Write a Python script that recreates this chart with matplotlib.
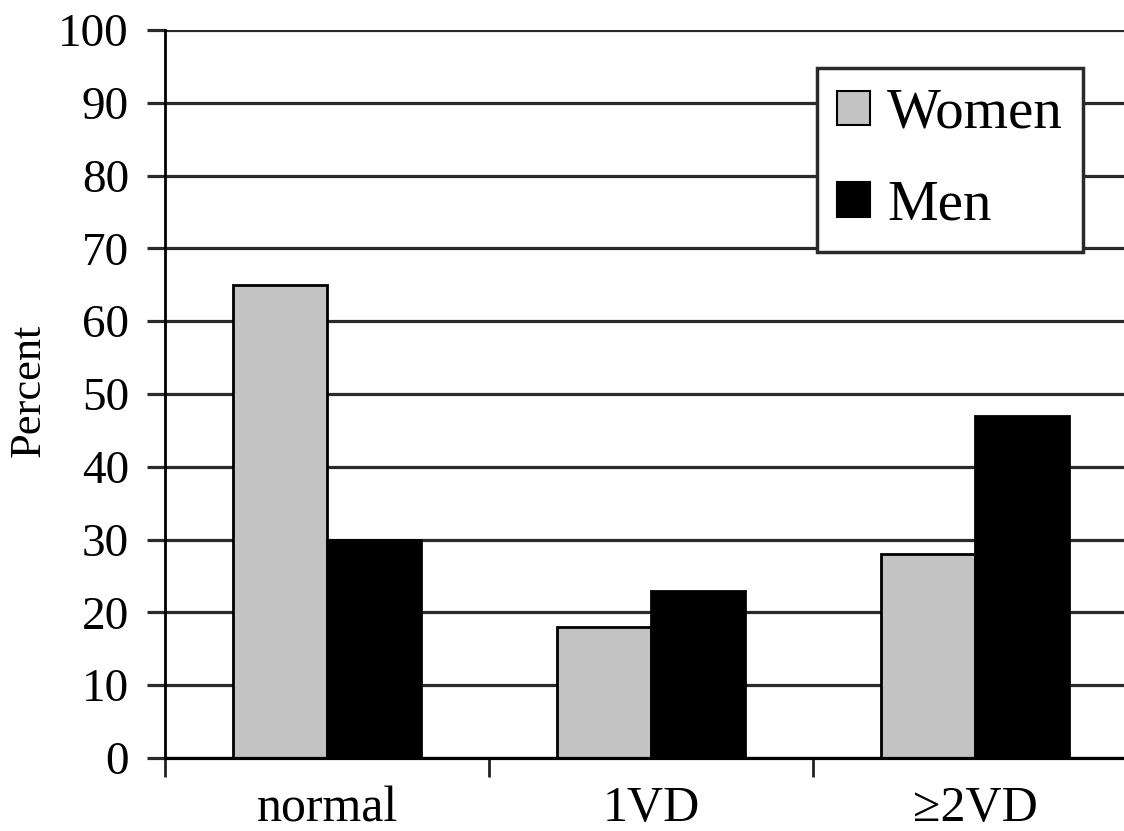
import matplotlib
matplotlib.use("Agg")
import matplotlib.pyplot as plt
import numpy as np

categories = ["normal", "1VD", "\u22652VD"]
women = [65, 18, 28]
men = [30, 23, 47]
yticks = [0, 10, 20, 30, 40, 50, 60, 70, 80, 90, 100]

plt.rcParams['font.family'] = ['Liberation Serif', 'DejaVu Serif']

W, H = 1124, 831
fig = plt.figure(figsize=(W / 100, H / 100), dpi=100)
ax = fig.add_axes([165 / W, 1 - 758 / H, (1137 - 165) / W, (758 - 30) / H])

x = np.arange(len(categories))
bw = 0.29
ax.bar(x - bw / 2, women, bw, color="#c3c3c3", edgecolor="black", linewidth=2.0, zorder=3, label="Women")
ax.bar(x + bw / 2, men, bw, color="black", edgecolor="black", linewidth=2.0, zorder=3, label="Men")

ax.set_xlim(-0.5, 2.5)
ax.set_ylim(0, 100)
ax.set_yticks(yticks)
ax.set_yticklabels([str(v) for v in yticks], fontsize=34)
ax.yaxis.grid(True, color="#2a2a2a", linewidth=2.3, zorder=1)
ax.set_axisbelow(True)
ax.tick_params(axis="y", length=13, width=2.3, color="#2a2a2a", pad=13, direction="out")

ax.set_xticks(x)
ax.set_xticklabels(categories, fontsize=36)
ax.set_xticks([-0.5, 0.5, 1.5, 2.5], minor=True)
ax.tick_params(axis="x", which="major", length=0, pad=20)
ax.tick_params(axis="x", which="minor", length=14, width=2.0, color="#222222", direction="out")

for s in ["top", "right"]:
    ax.spines[s].set_visible(False)
ax.spines["left"].set_linewidth(2.0)
ax.spines["bottom"].set_linewidth(2.3)
ax.spines["left"].set_zorder(4)
ax.spines["bottom"].set_zorder(4)

fig.text(29 / W, 1 - 390 / H, "Percent", rotation=90, fontsize=32, ha="center", va="center")

leg = ax.legend(loc="upper left", bbox_to_anchor=(817 / W, 1 - 68 / H), bbox_transform=fig.transFigure,
                fontsize=41, frameon=True, fancybox=False, framealpha=1, edgecolor="#2a2a2a",
                handlelength=0.58, handleheight=0.55, handletextpad=0.3, labelspacing=0.7,
                borderpad=0.35, borderaxespad=0)
leg.get_frame().set_linewidth(2.5)
for h in leg.legend_handles:
    h.set_linewidth(1.5)
leg.set_zorder(5)

fig.savefig("out.png", dpi=100)
